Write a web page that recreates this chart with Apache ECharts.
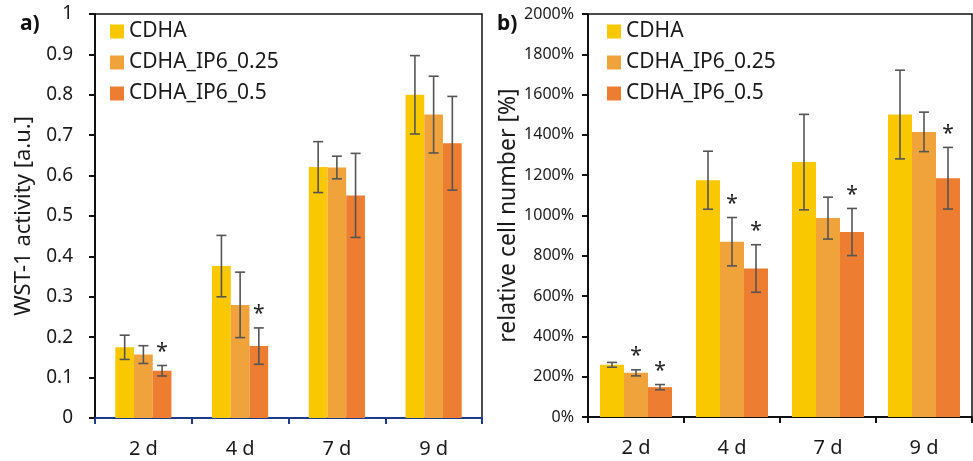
<!DOCTYPE html>
<html>
<head>
<meta charset="utf-8">
<script src="https://cdn.jsdelivr.net/npm/echarts@6/dist/echarts.min.js"></script>
<style>
  html, body { margin: 0; padding: 0; background: #fff; }
  #chart { width: 973px; height: 461px; }
</style>
</head>
<body>
<div id="chart"></div>
<script>
// 数据
var days = ['2 d', '4 d', '7 d', '9 d'];
var seriesNames = ['CDHA', 'CDHA_IP6_0.25', 'CDHA_IP6_0.5'];
var colors = ['#F9C800', '#F1A33B', '#EC7D31'];

// a) WST-1 activity
var wstCdha = [0.175, 0.376, 0.621, 0.800];
var wstIp025 = [0.157, 0.280, 0.620, 0.751];
var wstIp05 = [0.117, 0.178, 0.551, 0.680];
var wstErrCdha = [0.030, 0.076, 0.063, 0.097];
var wstErrIp025 = [0.022, 0.081, 0.028, 0.095];
var wstErrIp05 = [0.013, 0.045, 0.104, 0.116];
var wstStar = [[0, 0, 0, 0], [0, 0, 0, 0], [1, 1, 0, 0]];

// b) relative cell number [%]
var cellCdha = [259, 1175, 1265, 1501];
var cellIp025 = [219, 870, 987, 1415];
var cellIp05 = [148, 737, 918, 1185];
var cellErrCdha = [12, 144, 237, 220];
var cellErrIp025 = [15, 120, 104, 98];
var cellErrIp05 = [13, 118, 117, 153];
var cellStar = [[0, 0, 0, 0], [1, 1, 0, 0], [1, 1, 1, 1]];

var fontFam = "'Noto Sans', 'Open Sans', sans-serif";
var chart = echarts.init(document.getElementById('chart'));

// 误差线（含星号）
function errorSeries(gridIdx, sIdx, vals, errs, stars, gapRatio) {
    var data = vals.map(function (v, i) { return [i, v, errs[i], stars[i]]; });
    return {
        type: 'custom',
        xAxisIndex: gridIdx,
        yAxisIndex: gridIdx,
        z: 10,
        silent: true,
        data: data,
        renderItem: function (params, api) {
            var c = api.value(0);
            var v = api.value(1);
            var e = api.value(2);
            var bandW = api.size([1, 0])[0];
            var barW = bandW * (1 - gapRatio) / 3;
            var x = api.coord([c, v])[0] + (sIdx - 1) * barW;
            var yHi = api.coord([c, v + e])[1];
            var yLo = api.coord([c, v - e])[1];
            var cap = 5;
            var st = { stroke: '#555555', lineWidth: 1.6 };
            var children = [
                { type: 'line', shape: { x1: x, y1: yHi, x2: x, y2: yLo }, style: st },
                { type: 'line', shape: { x1: x - cap, y1: yHi, x2: x + cap, y2: yHi }, style: st },
                { type: 'line', shape: { x1: x - cap, y1: yLo, x2: x + cap, y2: yLo }, style: st }
            ];
            if (api.value(3)) {
                children.push({
                    type: 'text',
                    style: {
                        x: x, y: yHi - 3, text: '*',
                        align: 'center', verticalAlign: 'bottom',
                        fontSize: 21, fill: '#222', fontFamily: fontFam
                    }
                });
            }
            return { type: 'group', children: children };
        }
    };
}

function barSeries(gridIdx, sIdx, vals, gap) {
    return {
        name: seriesNames[sIdx],
        type: 'bar',
        xAxisIndex: gridIdx,
        yAxisIndex: gridIdx,
        barGap: '0%',
        barCategoryGap: gap,
        itemStyle: { color: colors[sIdx] },
        data: vals
    };
}

var legendBase = {
    orient: 'vertical',
    itemWidth: 14,
    itemHeight: 14,
    itemGap: 10,
    icon: 'rect',
    textStyle: { fontSize: 21, color: '#1a1a1a', fontFamily: fontFam },
    data: seriesNames
};

var option = {
    animation: false,
    textStyle: { fontFamily: fontFam },
    graphic: [
        { type: 'text', left: 20, top: 14, style: { text: 'a)', fontSize: 21, fontWeight: 'bold', fill: '#111', fontFamily: fontFam } },
        { type: 'text', left: 497, top: 14, style: { text: 'b)', fontSize: 21, fontWeight: 'bold', fill: '#111', fontFamily: fontFam } }
    ],
    legend: [
        Object.assign({}, legendBase, { left: 105, top: 16 }),
        Object.assign({}, legendBase, { left: 602, top: 16 })
    ],
    grid: [
        { left: 95, right: 491, top: 14, bottom: 43, show: true, borderColor: '#111', borderWidth: 1.5 },
        { left: 588, right: 1, top: 14, bottom: 44, show: true, borderColor: '#111', borderWidth: 1.5 }
    ],
    xAxis: [
        {
            type: 'category', gridIndex: 0, data: days,
            axisLine: { lineStyle: { color: '#1F3A8A', width: 2 } },
            axisTick: { show: true, length: 6, lineStyle: { color: '#1F3A8A', width: 2 } },
            axisLabel: { fontSize: 20, color: '#1a1a1a', margin: 21 }
        },
        {
            type: 'category', gridIndex: 1, data: days,
            axisLine: { lineStyle: { color: '#111', width: 2 } },
            axisTick: { show: true, length: 6, lineStyle: { color: '#111', width: 2 } },
            axisLabel: { fontSize: 20, color: '#1a1a1a', margin: 21 }
        }
    ],
    yAxis: [
        {
            type: 'value', gridIndex: 0, min: 0, max: 1, interval: 0.1,
            name: 'WST-1 activity [a.u.]', nameLocation: 'middle', nameGap: 60,
            nameTextStyle: { fontSize: 22, color: '#1a1a1a' },
            axisLine: { show: true, lineStyle: { color: '#111', width: 2 } },
            axisTick: { show: true, length: 6, lineStyle: { color: '#111', width: 2 } },
            axisLabel: { fontSize: 19, color: '#1a1a1a', margin: 22 },
            splitLine: { show: false }
        },
        {
            type: 'value', gridIndex: 1, min: 0, max: 2000, interval: 200,
            name: 'relative cell number [%]', nameLocation: 'middle', nameGap: 64,
            nameTextStyle: { fontSize: 23, color: '#1a1a1a' },
            axisLine: { show: true, lineStyle: { color: '#111', width: 2 } },
            axisTick: { show: true, length: 6, lineStyle: { color: '#111', width: 2 } },
            axisLabel: {
                fontSize: 16, color: '#1a1a1a', margin: 14,
                formatter: function (v) { return v + '%'; }
            },
            splitLine: { show: false }
        }
    ],
    series: [
        barSeries(0, 0, wstCdha, '42%'),
        barSeries(0, 1, wstIp025, '42%'),
        barSeries(0, 2, wstIp05, '42%'),
        errorSeries(0, 0, wstCdha, wstErrCdha, wstStar[0], 0.42),
        errorSeries(0, 1, wstIp025, wstErrIp025, wstStar[1], 0.42),
        errorSeries(0, 2, wstIp05, wstErrIp05, wstStar[2], 0.42),
        barSeries(1, 0, cellCdha, '25%'),
        barSeries(1, 1, cellIp025, '25%'),
        barSeries(1, 2, cellIp05, '25%'),
        errorSeries(1, 0, cellCdha, cellErrCdha, cellStar[0], 0.25),
        errorSeries(1, 1, cellIp025, cellErrIp025, cellStar[1], 0.25),
        errorSeries(1, 2, cellIp05, cellErrIp05, cellStar[2], 0.25)
    ]
};
chart.setOption(option);
</script>
</body>
</html>
